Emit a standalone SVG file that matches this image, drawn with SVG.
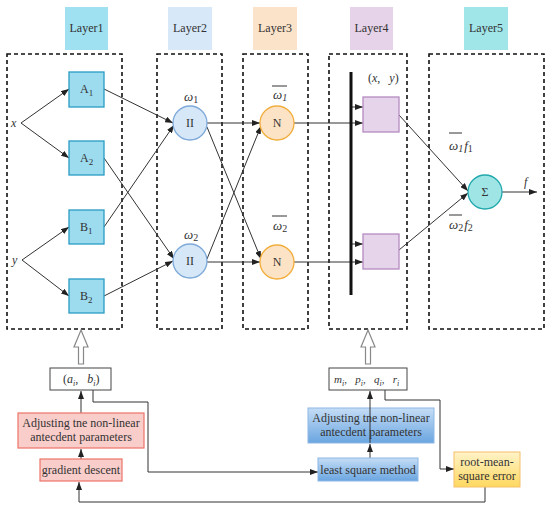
<svg xmlns="http://www.w3.org/2000/svg" width="550" height="509" viewBox="0 0 550 509" font-family="'Liberation Serif', 'Times New Roman', serif">
<defs>
<marker id="ah" viewBox="0 0 8 6" refX="8" refY="3" markerWidth="8" markerHeight="6" markerUnits="userSpaceOnUse" orient="auto">
<path d="M0,0 L8,3 L0,6 Z" fill="#222"/>
</marker>
<linearGradient id="gblue" x1="0" y1="0" x2="0" y2="1">
<stop offset="0" stop-color="#c5ddf6"/>
<stop offset="1" stop-color="#6aa5e0"/>
</linearGradient>
<linearGradient id="gyel" x1="0" y1="0" x2="0" y2="1">
<stop offset="0" stop-color="#fff3c8"/>
<stop offset="1" stop-color="#ffd860"/>
</linearGradient>
<style>
text{font-family:'Liberation Serif','Times New Roman',serif;fill:#333;}
.lab{font-size:12px;text-anchor:middle;}
.it{font-style:italic;}
.dash{fill:none;stroke:#111;stroke-width:1.6;stroke-dasharray:4,3;}
.c{fill:none;stroke:#333;stroke-width:1;}
.ca{fill:none;stroke:#333;stroke-width:1;marker-end:url(#ah);}
.sq{fill:#9ddcef;stroke:#2a9bc4;stroke-width:1.3;}
.pi{fill:#d6e7f8;stroke:#7ea9d9;stroke-width:1.3;}
.nn{fill:#fde3c6;stroke:#f2ae3c;stroke-width:1.3;}
.pu{fill:#e6d4ea;stroke:#b48bc2;stroke-width:1.3;}
.hol{fill:#fff;stroke:#888;stroke-width:1.2;}
</style>
</defs>

<g id="layer-labels">
<rect x="65" y="7" width="43" height="43" fill="#9fe0f1"/>
<text class="lab" x="86.5" y="32">Layer1</text>
<rect x="168" y="7" width="44" height="43" fill="#d7e8f8"/>
<text class="lab" x="190" y="32">Layer2</text>
<rect x="253" y="7" width="44" height="43" fill="#fbe3c9"/>
<text class="lab" x="275" y="32">Layer3</text>
<rect x="350" y="7" width="43" height="43" fill="#e6d3e9"/>
<text class="lab" x="371.5" y="32">Layer4</text>
<rect x="464" y="7" width="44" height="43" fill="#a0e5e8"/>
<text class="lab" x="486" y="32">Layer5</text>
</g>

<g id="layer-boxes">
<rect class="dash" x="7" y="54" width="115" height="275"/>
<rect class="dash" x="157" y="54" width="65" height="275"/>
<rect class="dash" x="243" y="54" width="65" height="275"/>
<rect class="dash" x="329" y="54" width="78" height="275"/>
<rect class="dash" x="429" y="54" width="115" height="275"/>
</g>

<g id="connectors">
<path class="ca" d="M21,123 L69,89"/>
<path class="ca" d="M21,123 L69,158"/>
<path class="ca" d="M22,260 L69,227"/>
<path class="ca" d="M22,260 L69,296"/>
<path class="ca" d="M104,89 L173,123"/>
<path class="ca" d="M104,227 L174,125"/>
<path class="ca" d="M104,158 L174,259"/>
<path class="ca" d="M104,296 L173,261"/>
<path class="ca" d="M207,123 L260,123"/>
<path class="ca" d="M207,127 L261,259"/>
<path class="ca" d="M207,259 L261,126"/>
<path class="ca" d="M207,262 L260,262"/>
<path class="ca" d="M294,123 L363,123"/>
<path class="ca" d="M351,107 L363,107"/>
<path class="ca" d="M294,262 L363,262"/>
<path class="ca" d="M351,244 L363,244"/>
<path d="M351,72 L351,295" stroke="#111" stroke-width="3" fill="none"/>
<path class="ca" d="M399,115 L468,191"/>
<path class="ca" d="M399,250 L468,193"/>
<path class="ca" d="M502,192 L537,192"/>
<path class="ca" d="M81,413 L81,391"/>
<path class="ca" d="M81,459 L81,449"/>
<path class="ca" d="M485,487 L485,502 L79,502 L79,482"/>
<path class="ca" d="M93,390 L93,402 L148,402 L148,472 L318,472"/>
<path class="ca" d="M370,458 L370,444"/>
<path class="ca" d="M385,390 L385,400 L440,400 L440,469 L454,469"/>
</g>

<g id="hollow-arrows">
<path class="hol" d="M78.5,364 L78.5,347 L74,347 L81,330 L88,347 L83.5,347 L83.5,364 Z"/>
<path class="hol" d="M365.5,364 L365.5,347 L361,347 L368,330 L375,347 L370.5,347 L370.5,364 Z"/>
</g>

<g id="inputs">
<text class="it" x="11" y="127" font-size="12">x</text>
<text class="it" x="12" y="264" font-size="12">y</text>
</g>

<g id="A1"><rect class="sq" x="69" y="72" width="35" height="35"/><text x="80" y="93" font-size="12">A<tspan font-size="9" dy="3">1</tspan></text></g>
<g id="A2"><rect class="sq" x="69" y="141" width="35" height="34"/><text x="80" y="162" font-size="12">A<tspan font-size="9" dy="3">2</tspan></text></g>
<g id="B1"><rect class="sq" x="69" y="210" width="35" height="34"/><text x="80" y="231" font-size="12">B<tspan font-size="9" dy="3">1</tspan></text></g>
<g id="B2"><rect class="sq" x="69" y="279" width="35" height="34"/><text x="80" y="300" font-size="12">B<tspan font-size="9" dy="3">2</tspan></text></g>

<g id="P1"><circle class="pi" cx="190" cy="123" r="17"/><text class="lab" x="190" y="127" font-size="11">II</text>
<text x="184" y="101" font-size="13"><tspan class="it">ω</tspan><tspan font-size="10" dy="2">1</tspan></text></g>
<g id="P2"><circle class="pi" cx="190" cy="261" r="17"/><text class="lab" x="190" y="265" font-size="11">II</text>
<text x="184" y="239" font-size="13"><tspan class="it">ω</tspan><tspan font-size="10" dy="2">2</tspan></text></g>

<g id="N1"><circle class="nn" cx="277" cy="123" r="17"/><text class="lab" x="277" y="127" font-size="11">N</text>
<path d="M272,86 L287,86" stroke="#333" stroke-width="1"/>
<text x="273" y="99" font-size="13" class="it">ω<tspan font-size="10" dy="2">1</tspan></text></g>
<g id="N2"><circle class="nn" cx="277" cy="262" r="17"/><text class="lab" x="277" y="266" font-size="11">N</text>
<path d="M272,216 L287,216" stroke="#333" stroke-width="1"/>
<text x="273" y="230" font-size="13" class="it">ω<tspan font-size="10" dy="2" font-style="normal">2</tspan></text></g>

<g id="R1"><rect class="pu" x="363" y="97" width="36" height="35"/>
<text x="368" y="82" font-size="12">(<tspan class="it">x</tspan>,&#160;&#160;&#160;<tspan class="it">y</tspan>)</text></g>
<g id="R2"><rect class="pu" x="363" y="234" width="36" height="35"/></g>

<g id="S"><circle cx="485" cy="192" r="17" fill="#9fe5e6" stroke="#22a8ad" stroke-width="1.3"/>
<text class="lab" x="485" y="196" font-size="12">Σ</text>
<text class="it" x="524" y="186" font-size="12">f</text></g>

<g id="wf">
<path d="M449,133 L462,133" stroke="#333" stroke-width="1"/>
<text x="449" y="150" font-size="13"><tspan class="it">ω</tspan><tspan font-size="10" dy="2" class="it">1</tspan><tspan dy="-2" dx="1" class="it">f</tspan><tspan font-size="10" dy="2">1</tspan></text>
<path d="M449,215 L462,215" stroke="#333" stroke-width="1"/>
<text x="449" y="229" font-size="13"><tspan class="it">ω</tspan><tspan font-size="10" dy="2">2</tspan><tspan dy="-2" dx="1" class="it">f</tspan><tspan font-size="10" dy="2">2</tspan></text>
</g>

<g id="ab"><rect x="50" y="368" width="61" height="22" fill="#fff" stroke="#444" stroke-width="1"/>
<text x="63" y="383" font-size="12">(<tspan class="it">a</tspan><tspan font-size="8" dy="3" class="it">i</tspan><tspan dy="-3">,&#160;&#160;&#160;</tspan><tspan class="it">b</tspan><tspan font-size="8" dy="3" class="it">i</tspan><tspan dy="-3">)</tspan></text></g>

<g id="adj1"><rect x="18" y="413" width="126" height="35" fill="#f9cdca" stroke="#ec7468" stroke-width="1.2"/>
<text class="lab" x="81" y="427">Adjusting tne non-linear</text>
<text class="lab" x="81" y="441">antecdent parameters</text></g>

<g id="gd"><rect x="40" y="459" width="82" height="22" fill="#f9cdca" stroke="#ec7468" stroke-width="1.2"/>
<text class="lab" x="81" y="474">gradient descent</text></g>

<g id="mpqr"><rect x="329" y="368" width="78" height="22" fill="#fff" stroke="#444" stroke-width="1"/>
<text x="334" y="383" font-size="11"><tspan class="it">m</tspan><tspan font-size="8" dy="3" class="it">i</tspan><tspan dy="-3">,&#160;&#160;&#160;</tspan><tspan class="it">p</tspan><tspan font-size="8" dy="3" class="it">i</tspan><tspan dy="-3">,&#160;&#160;&#160;</tspan><tspan class="it">q</tspan><tspan font-size="8" dy="3" class="it">i</tspan><tspan dy="-3">,&#160;&#160;&#160;</tspan><tspan class="it">r</tspan><tspan font-size="8" dy="3" class="it">i</tspan></text></g>

<g id="adj2"><rect x="308" y="408" width="126" height="35" fill="url(#gblue)" stroke="#8db8e6" stroke-width="1"/>
<text class="lab" x="371" y="422">Adjusting tne non-linear</text>
<text class="lab" x="371" y="436">antecdent parameters</text></g>
<path class="ca" d="M370,443 L370,391"/>

<g id="lsm"><rect x="318" y="458" width="100" height="23" fill="url(#gblue)" stroke="#8db8e6" stroke-width="1"/>
<text class="lab" x="368" y="474">least square method</text></g>

<g id="rmse"><rect x="454" y="452" width="66" height="35" fill="url(#gyel)" stroke="#f5c06a" stroke-width="1"/>
<text class="lab" x="487" y="466">root-mean-</text>
<text class="lab" x="487" y="480">square error</text></g>
</svg>
